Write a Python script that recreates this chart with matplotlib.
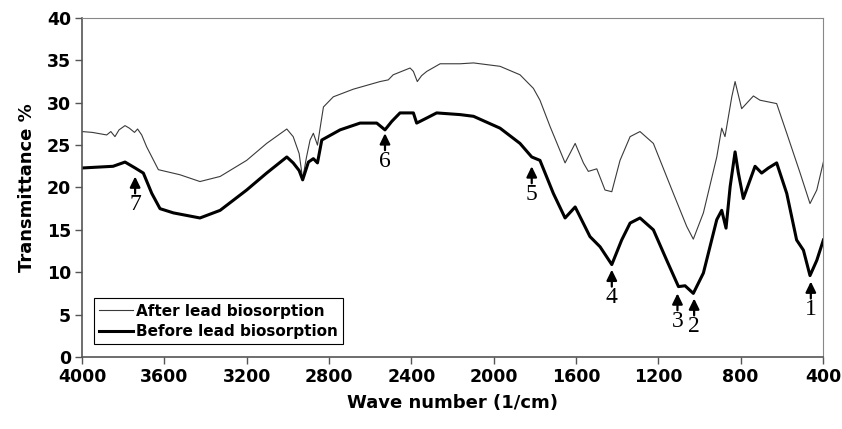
import numpy as np
import matplotlib.pyplot as plt

# ─── data ─────────────────────────────────────────────────────────────────────
after_wn = [4000, 3950, 3880, 3860, 3840, 3820, 3791, 3770, 3745, 3730, 3710,
            3686, 3629, 3524, 3427, 3329, 3200, 3103, 3005, 2974, 2945, 2928,
            2910, 2892, 2876, 2856, 2840, 2827, 2779, 2682, 2552, 2512, 2488,
            2406, 2390, 2371, 2350, 2325, 2260, 2163, 2098, 1969, 1872, 1807,
            1775, 1726, 1653, 1604, 1564, 1540, 1499, 1459, 1426, 1386, 1337,
            1289, 1224, 1127, 1062, 1030, 981, 916, 892, 876, 843, 827, 795,
            738, 706, 625, 576, 511, 463, 430, 398]
after_t = [26.6, 26.5, 26.2, 26.6, 26.0, 26.8, 27.3, 27.0, 26.5, 26.9, 26.2,
           24.8, 22.1, 21.5, 20.7, 21.3, 23.2, 25.2, 26.9, 26.0, 24.0, 21.0,
           23.5, 25.6, 26.4, 25.0, 27.5, 29.5, 30.7, 31.6, 32.5, 32.7, 33.3,
           34.1, 33.7, 32.5, 33.2, 33.7, 34.6, 34.6, 34.7, 34.3, 33.3, 31.7,
           30.3, 27.2, 22.9, 25.2, 22.9, 21.9, 22.2, 19.7, 19.5, 23.2, 26.0,
           26.6, 25.2, 19.3, 15.4, 13.9, 17.0, 23.6, 27.0, 26.0, 30.7, 32.5,
           29.3, 30.8, 30.3, 29.9, 26.4, 21.7, 18.1, 19.7, 23.0]

before_wn = [4000, 3849, 3791, 3742, 3702, 3661, 3621, 3556, 3427, 3329, 3200,
             3103, 3005, 2974, 2945, 2928, 2900, 2876, 2856, 2835, 2746, 2649,
             2568, 2528, 2495, 2455, 2390, 2374, 2325, 2277, 2163, 2098, 1969,
             1872, 1815, 1775, 1710, 1653, 1604, 1532, 1483, 1426, 1378, 1337,
             1289, 1224, 1159, 1102, 1070, 1030, 981, 916, 892, 871, 851, 827,
             811, 787, 730, 698, 665, 625, 576, 528, 495, 463, 430, 398]
before_t = [22.3, 22.5, 23.0, 22.3, 21.7, 19.3, 17.5, 17.0, 16.4, 17.3, 19.7,
            21.7, 23.6, 22.9, 22.0, 20.9, 23.0, 23.4, 22.9, 25.6, 26.8, 27.6,
            27.6, 26.8, 27.8, 28.8, 28.8, 27.6, 28.2, 28.8, 28.6, 28.4, 27.0,
            25.2, 23.6, 23.2, 19.3, 16.4, 17.7, 14.2, 13.0, 10.9, 13.8, 15.8,
            16.4, 15.0, 11.4, 8.3, 8.4, 7.5, 9.9, 16.2, 17.3, 15.2, 20.1, 24.2,
            21.7, 18.7, 22.5, 21.7, 22.3, 22.9, 19.3, 13.8, 12.6, 9.6, 11.4, 13.8]

# numbered band markers: wavenumber, arrow tip height, label
mark_wn = [459, 1026, 1107, 1426, 1815, 2528, 3742]
mark_tip = [8.9, 6.9, 7.5, 10.3, 22.5, 26.4, 21.3]
mark_label = ["1", "2", "3", "4", "5", "6", "7"]
# ────────────────────────────────────────────────────────────────────────────────

fig = plt.figure(figsize=(8.42, 4.29), dpi=100)
ax = fig.add_axes([0.0974, 0.168, 0.88, 0.79])

ax.plot(after_wn, after_t, color="#3a3a3a", lw=0.8, label="After lead biosorption")
ax.plot(before_wn, before_t, color="black", lw=2.2, label="Before lead biosorption")

for wn, tip, lab in zip(mark_wn, mark_tip, mark_label):
    ax.annotate("", xy=(wn, tip), xytext=(wn, tip - 2.0),
                arrowprops=dict(arrowstyle="-|>,head_length=0.45,head_width=0.22",
                                color="black", lw=1.6, mutation_scale=14,
                                shrinkA=0, shrinkB=0))
    ax.text(wn, tip - 3.3, lab, ha="center", va="center",
            family="Liberation Serif", fontsize=17)

ax.set_xlim(4000, 400)
ax.set_ylim(0, 40)
ax.set_xticks(np.arange(4000, 399, -400))
ax.set_yticks(np.arange(0, 41, 5))
ax.tick_params(direction="out", length=5, width=1, labelsize=12.5, pad=3,
               color="#555555")
for lab in ax.get_xticklabels() + ax.get_yticklabels():
    lab.set_fontweight("bold")

for s in ["top", "right"]:
    ax.spines[s].set_color("#888888")
for s in ["left", "bottom"]:
    ax.spines[s].set_color("#555555")
    ax.spines[s].set_linewidth(1.2)

ax.set_xlabel("Wave number (1/cm)", fontsize=13, fontweight="bold", labelpad=6)
ax.set_ylabel("Transmittance %", fontsize=13, fontweight="bold", labelpad=8)

leg = ax.legend(loc="lower left", bbox_to_anchor=(0.006, 0.015), fancybox=False,
                edgecolor="black", framealpha=1, handlelength=2.2, handletextpad=0.2,
                borderpad=0.35, labelspacing=0.35,
                prop=dict(weight="bold", size=11))
leg.get_frame().set_linewidth(0.8)

fig.savefig("out.png", dpi=100)
